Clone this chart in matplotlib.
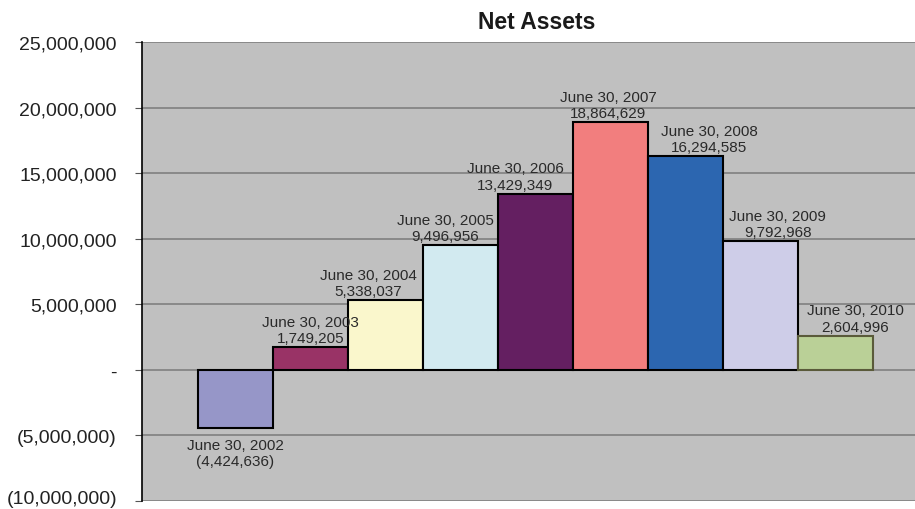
import matplotlib.pyplot as plt
import matplotlib.transforms as mtransforms
from matplotlib.ticker import FuncFormatter

plt.rcParams['font.family'] = ['Liberation Sans', 'DejaVu Sans']

# data
dates = ['June 30, 2002', 'June 30, 2003', 'June 30, 2004', 'June 30, 2005', 'June 30, 2006',
         'June 30, 2007', 'June 30, 2008', 'June 30, 2009', 'June 30, 2010']
net_assets = [-4424636, 1749205, 5338037, 9496956, 13429349, 18864629, 16294585, 9792968, 2604996]
colors = ['#9696C8', '#993366', '#FAF7CC', '#D2EAF0', '#641F61', '#F27E7E', '#2C66B0', '#CECDE8', '#BAD097']
edges = ['black'] * 8 + ['#5a5a3a']
# horizontal shift of each label vs. its bar (in bar widths), as placed in the original
label_dx = [0.0, 0.0, -0.23, -0.2, -0.27, -0.03, 0.32, 0.23, 0.26]

fig = plt.figure(figsize=(9.15, 5.1), dpi=100)
ax = fig.add_axes([142 / 915, 8 / 510, 773 / 915, 459 / 510])
ax.set_facecolor('#C0C0C0')

x = list(range(len(net_assets)))
ax.bar(x, net_assets, width=1.0, color=colors, edgecolor=edges, linewidth=1.5, zorder=3)

for i, v in enumerate(net_assets):
    if v < 0:
        txt = dates[i] + '\n(' + format(-v, ',') + ')'
        ax.annotate(txt, (i + label_dx[i], v), xytext=(0, -7), textcoords='offset points',
                    ha='center', va='top', fontsize=11, color='#2a2a2a', linespacing=1.2, zorder=4)
    else:
        txt = dates[i] + '\n' + format(v, ',')
        ax.annotate(txt, (i + label_dx[i], v), xytext=(0, 1.5), textcoords='offset points',
                    ha='center', va='bottom', fontsize=11, color='#2a2a2a', linespacing=1.2, zorder=4)

ax.set_xlim(-0.5 - 56 / 75, 8.5 + 42 / 75)
ax.set_ylim(-10000000, 25000000)
ax.set_yticks(range(-10000000, 25000001, 5000000))


def fmt(v, pos):
    if v == 0:
        return '-'
    if v < 0:
        return '(' + format(int(-v), ',') + ')'
    return format(int(v), ',')


ax.yaxis.set_major_formatter(FuncFormatter(fmt))
ax.tick_params(axis='y', labelsize=14, length=5, color='#555555', labelcolor='#222222', pad=13)
ax.set_xticks([])
ax.grid(axis='y', color='#808080', linewidth=1.2, zorder=1)
for s in ['top', 'right', 'bottom']:
    ax.spines[s].set_visible(False)
ax.spines['left'].set_color('black')
ax.spines['left'].set_linewidth(1.2)

# keep the lowest tick label inside the picture
fig.canvas.draw()
lowest = ax.get_yticklabels()[0]
lowest.set_transform(lowest.get_transform() + mtransforms.ScaledTranslation(0, 4 / 100, fig.dpi_scale_trans))

fig.text(537 / 915, 1 - 22.5 / 510, 'Net Assets', ha='center', va='center', fontsize=16.5, fontweight='bold',
         color='#1a1a1a')

fig.savefig('out.png', dpi=100)
